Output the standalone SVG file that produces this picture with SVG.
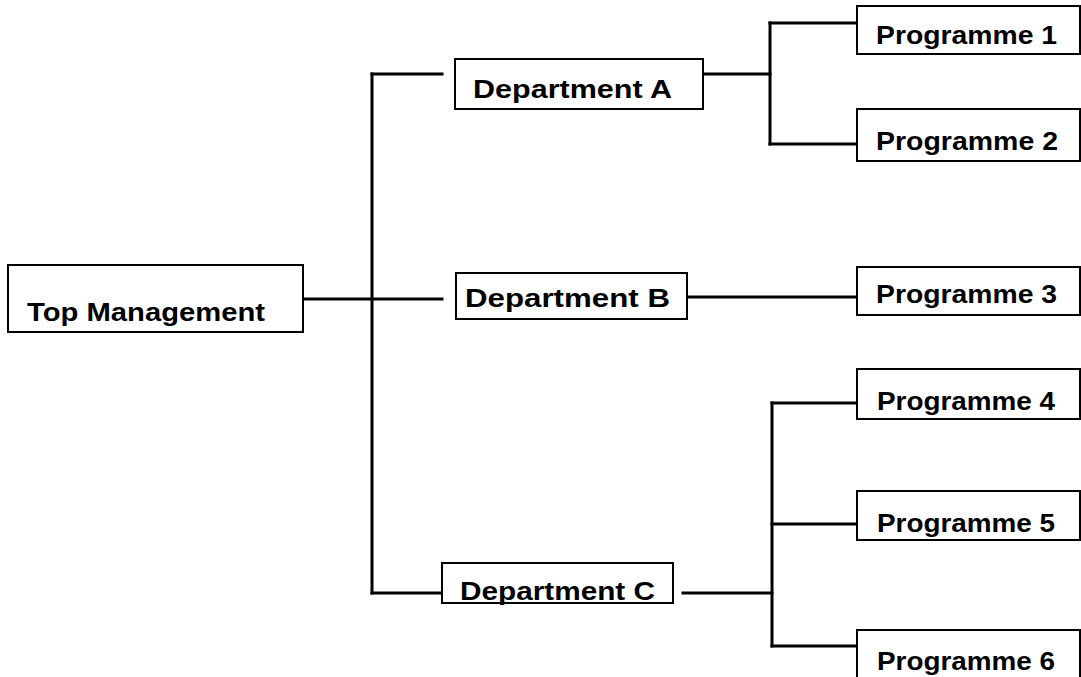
<svg xmlns="http://www.w3.org/2000/svg" width="1081" height="677" viewBox="0 0 1081 677">
<style>
.box{fill:#fff;stroke:#000;stroke-width:2}
.lbl{font-family:"Liberation Sans",Arial,sans-serif;font-weight:bold;font-size:26px;fill:#000}
.con{stroke:#000;stroke-width:3;fill:none;stroke-linecap:square}
</style>
<rect width="1081" height="677" fill="#fff"/>
<g id="connectors">
<path class="con" d="M303 299H442"/>
<path class="con" d="M372 74V593"/>
<path class="con" d="M372 74H442"/>
<path class="con" d="M372 593H442"/>
<path class="con" d="M703 74H770"/>
<path class="con" d="M770 23V144"/>
<path class="con" d="M770 23H857"/>
<path class="con" d="M770 144H857"/>
<path class="con" d="M688 297H857"/>
<path class="con" d="M683 593H772"/>
<path class="con" d="M772 403V646"/>
<path class="con" d="M772 403H857"/>
<path class="con" d="M772 524H857"/>
<path class="con" d="M772 646H857"/>
</g>
<g id="top"><rect class="box" x="8" y="265" width="295" height="67"/><text class="lbl" x="27" y="321" textLength="238" lengthAdjust="spacingAndGlyphs">Top Management</text></g>
<g id="deptA"><rect class="box" x="455" y="59" width="248" height="50"/><text class="lbl" x="473" y="98" textLength="199" lengthAdjust="spacingAndGlyphs">Department A</text></g>
<g id="deptB"><rect class="box" x="456" y="273" width="231" height="46"/><text class="lbl" x="465" y="307" textLength="205" lengthAdjust="spacingAndGlyphs">Department B</text></g>
<g id="deptC"><rect class="box" x="442" y="563" width="231" height="40"/><text class="lbl" x="460" y="600" textLength="195" lengthAdjust="spacingAndGlyphs">Department C</text></g>
<g id="prog1"><rect class="box" x="857" y="6" width="223" height="48"/><text class="lbl" x="876" y="44" textLength="181" lengthAdjust="spacingAndGlyphs">Programme 1</text></g>
<g id="prog2"><rect class="box" x="857" y="109" width="223" height="52"/><text class="lbl" x="876" y="150" textLength="182" lengthAdjust="spacingAndGlyphs">Programme 2</text></g>
<g id="prog3"><rect class="box" x="857" y="267" width="223" height="48"/><text class="lbl" x="876" y="303" textLength="181" lengthAdjust="spacingAndGlyphs">Programme 3</text></g>
<g id="prog4"><rect class="box" x="857" y="369" width="223" height="50"/><text class="lbl" x="877" y="410" textLength="178" lengthAdjust="spacingAndGlyphs">Programme 4</text></g>
<g id="prog5"><rect class="box" x="857" y="491" width="223" height="49"/><text class="lbl" x="877" y="532" textLength="178" lengthAdjust="spacingAndGlyphs">Programme 5</text></g>
<g id="prog6"><rect class="box" x="857" y="630" width="223" height="60"/><text class="lbl" x="877" y="670" textLength="178" lengthAdjust="spacingAndGlyphs">Programme 6</text></g>
</svg>
